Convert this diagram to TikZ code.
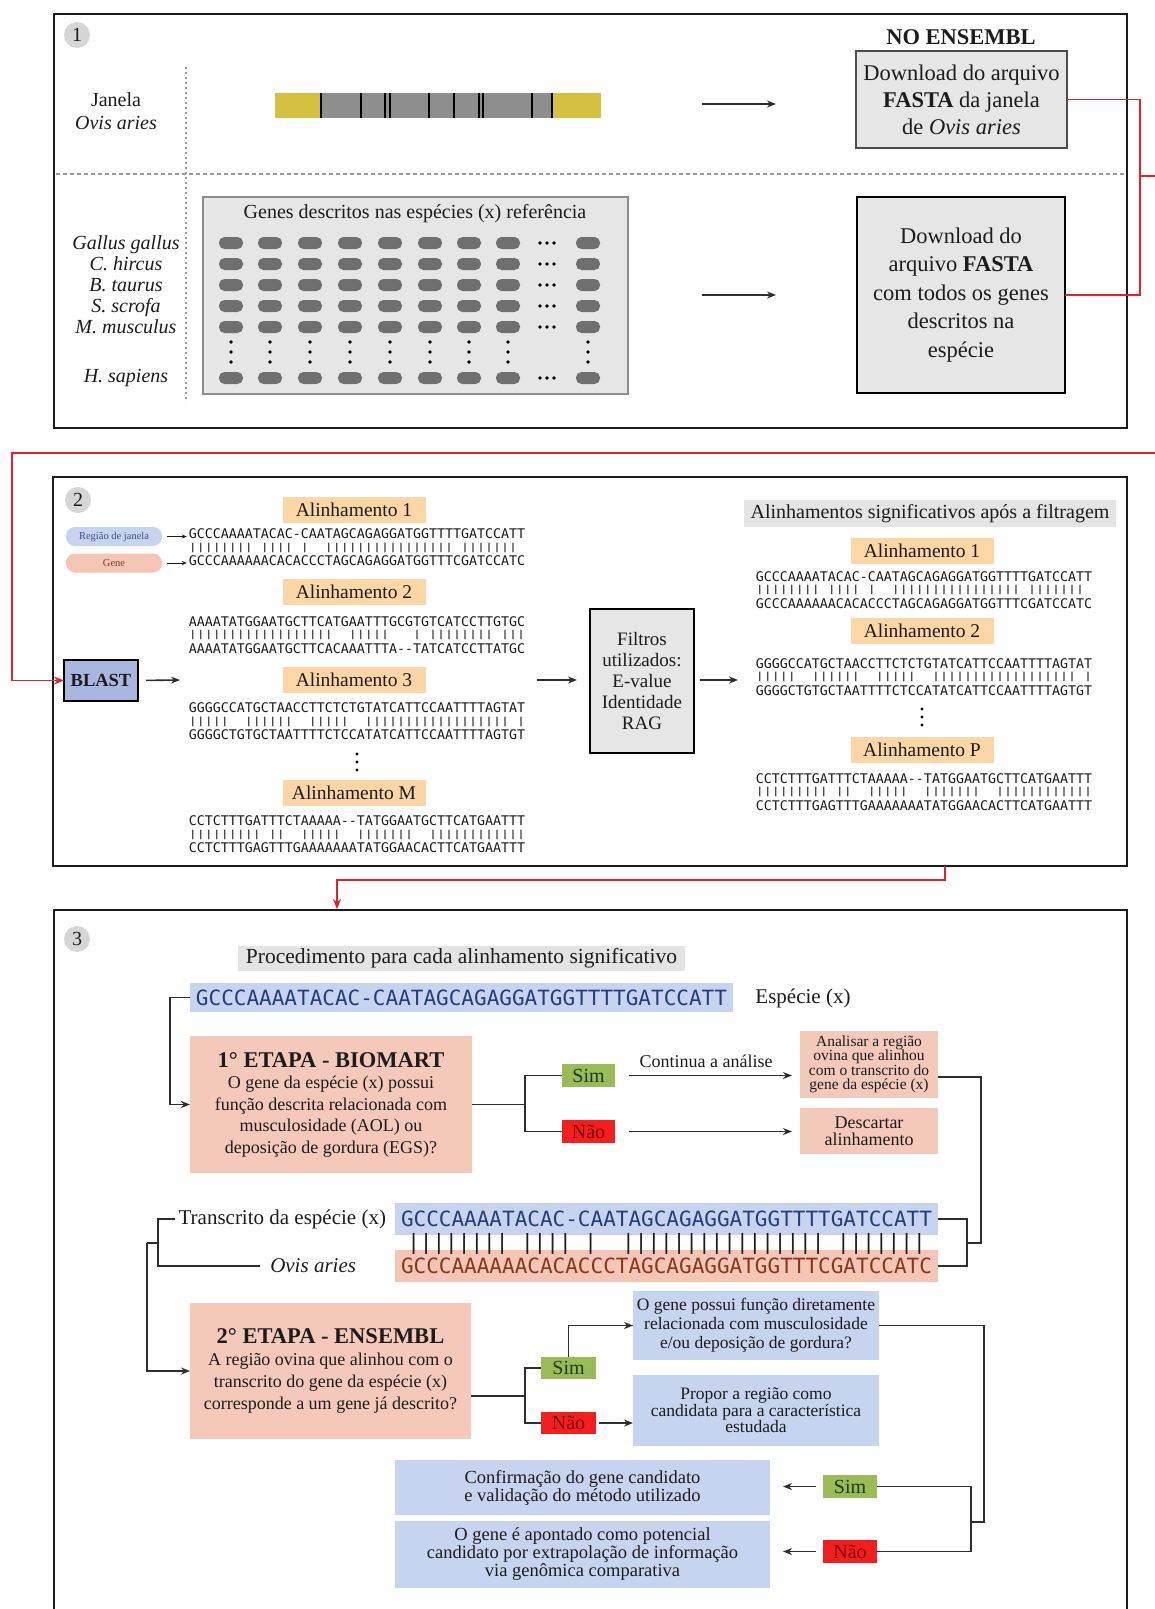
\documentclass[tikz,border=0pt]{standalone}
\usepackage{fontspec}
\setmainfont{Liberation Serif}
\newfontfamily\seqf{DejaVu Sans Mono}
\usetikzlibrary{arrows.meta}
\newcommand{\fsz}[2]{\fontsize{#1}{#2}\selectfont}
\newcommand{\seqgap}{\mbox{-}}
% aligned sequences (top / match bars / bottom)
\newcommand{\sqA}{GCCCAAAATACAC-CAATAGCAGAGGATGGTTTTGATCCATT}
\newcommand{\brA}{||||||||~||||~|~~||||||||||||||||~|||||||~}
\newcommand{\sqAb}{GCCCAAAAAACACACCCTAGCAGAGGATGGTTTCGATCCATC}
\newcommand{\sqB}{AAAATATGGAATGCTTCATGAATTTGCGTGTCATCCTTGTGC}
\newcommand{\brB}{||||||||||||||||||~~|||||~~~|~||||||||~|||}
\newcommand{\sqBb}{AAAATATGGAATGCTTCACAAATTTA\seqgap\seqgap TATCATCCTTATGC}
\newcommand{\sqC}{GGGGCCATGCTAACCTTCTCTGTATCATTCCAATTTTAGTAT}
\newcommand{\brC}{|||||~~||||||~~|||||~~||||||||||||||||||~|}
\newcommand{\sqCb}{GGGGCTGTGCTAATTTTCTCCATATCATTCCAATTTTAGTGT}
\newcommand{\sqD}{CCTCTTTGATTTCTAAAAA\seqgap\seqgap TATGGAATGCTTCATGAATTT}
\newcommand{\brD}{|||||||||~||~~|||||~~|||||||~~||||||||||||}
\newcommand{\sqDb}{CCTCTTTGAGTTTGAAAAAAATATGGAACACTTCATGAATTT}
% three-line alignment block: name, x, y of the bar line, top, bars, bottom
\newcommand{\alnblk}[6]{%
  \node[sq] (#1t) at (#2,#3-13.5) {#4};
  \node[sq] (#1m) at (#2,#3-2.3) {\scalebox{1}[0.72]{#5}};
  \node[sq] (#1b) at (#2,#3+13.5) {#6};}

\definecolor{ink}{HTML}{1C1C1C}
\definecolor{lgrey}{HTML}{E6E6E6}
\definecolor{hdrgrey}{HTML}{E4E4E4}
\definecolor{peach}{HTML}{FCD6A4}
\definecolor{salmon}{HTML}{F4C9BA}
\definecolor{lblue}{HTML}{C7D4F0}
\definecolor{blastc}{HTML}{A9B7E0}
\definecolor{simg}{HTML}{9BBB59}
\definecolor{simtxt}{HTML}{1F3A0E}
\definecolor{naor}{HTML}{F41E1E}
\definecolor{naotxt}{HTML}{7A0A0A}
\definecolor{winy}{HTML}{D6C040}
\definecolor{wing}{HTML}{8E8E8E}
\definecolor{pillg}{HTML}{6F6F6F}
\definecolor{redc}{HTML}{E2222B}
\definecolor{seqblue}{HTML}{243E78}
\definecolor{seqbrown}{HTML}{86381F}
\definecolor{dotg}{HTML}{9A9A9A}
\definecolor{pinkseq}{HTML}{F5C6B5}
\definecolor{pilltxtb}{HTML}{3C4E90}

\begin{document}
\begin{tikzpicture}[x=1pt,y=-1pt,
  every node/.style={inner sep=0pt,outer sep=0pt,text=ink},
  panel/.style={draw=ink,line width=2.4pt},
  num/.style={circle,fill=black!16,minimum size=26pt,font=\fsz{20}{22}},
  graybox/.style={fill=lgrey,draw=black!70,line width=1.4pt,align=center},
  lab/.style={fill=peach,minimum width=143pt,minimum height=26pt,font=\fsz{19.5}{21}},
  sq/.style={font=\seqf\fsz{13.3}{14},text height=9.6pt,text depth=0pt},
  bigsq/.style={font=\seqf\fsz{21}{24},text height=15.2pt,text depth=0pt,minimum width=543pt},
  hdr/.style={fill=hdrgrey},
  sbox/.style={fill=salmon,align=center},
  bbox/.style={fill=lblue,align=center},
  simbox/.style={fill=simg,minimum width=53pt,minimum height=23pt,font=\fsz{20}{21},text=simtxt},
  naobox/.style={fill=naor,minimum width=53pt,minimum height=23pt,font=\fsz{20}{21},text=naotxt},
  conn/.style={draw=black!82,line width=1.6pt},
  arr/.style={conn,-{Stealth[length=9pt,width=7pt]}},
  redln/.style={draw=redc,line width=1.8pt},
  pillbox/.style={rounded corners=9pt,minimum width=96pt,minimum height=19pt,font=\fsz{10.5}{11}},
]
\useasboundingbox (0,0) rectangle (1155,1609);
\clip (0,0) rectangle (1155,1609);
\fill[white] (0,0) rectangle (1155,1609);

% ---------------- Panel 1 ----------------
\node[panel,minimum width=1073pt,minimum height=414pt] (p1) at (590.5,221) {};
\node[num] (n1) at (77,35) {1};
\draw[dotg,line width=2.2pt,dash pattern=on 2pt off 3pt] (186,67) -- (186,402);
\draw[dotg,line width=1.6pt,dash pattern=on 4pt off 3pt] (56,174) -- (1125,174);

\node[font=\fsz{20}{23},align=center] (jan) at (116,111) {Janela\\\textit{Ovis aries}};

% genomic window
\fill[winy] (275,93) rectangle (321,118);
\fill[wing] (321,93) rectangle (553,118);
\fill[winy] (553,93) rectangle (601,118);
\foreach \lx in {321,361,385,390,429,454,479,483,532,552}
  \draw[black,line width=2pt] (\lx,93) -- (\lx,118);

% species and their genes
\node[font=\itshape\fsz{20}{21},align=center] (spp) at (126,285) {Gallus gallus\\C. hircus\\B. taurus\\S. scrofa\\M. musculus};
\node[font=\itshape\fsz{20}{21}] (hsap) at (126,378) {H. sapiens};
\node[fill=lgrey,draw=black!45,line width=1.2pt,minimum width=425pt,minimum height=197pt] (genes) at (415.5,295.5) {};
\node[font=\fsz{20}{22}] (gtit) at (415,214) {Genes descritos nas espécies (x) referência};
\foreach \cx in {231,270,310,350,390,430,469,508,588} {
  \foreach \cy in {243,264,285,306,327,378}
    \fill[pillg,rounded corners=5.5pt] (\cx-12,\cy-6) rectangle (\cx+12,\cy+6);
  \foreach \cy in {342,352,362}
    \fill[black] (\cx,\cy) circle (1.8pt);
}
\foreach \cy in {243,264,285,306,327,378}
  \foreach \dx in {-7,0,7}
    \fill[black] (547+\dx,\cy) circle (1.8pt);

% downloads
\coordinate (d1a) at (702,104);
\coordinate (d1b) at (776,104);
\coordinate (d2a) at (702,295);
\coordinate (d2b) at (776,295);
\draw[arr] (d1a) -- (d1b);
\draw[arr] (d2a) -- (d2b);
\node[font=\bfseries\fsz{22.5}{24}] (ne) at (961,37) {NO ENSEMBL};
\node[graybox,minimum width=211pt,minimum height=97pt,font=\fsz{22.5}{27}] (fa) at (961.5,99.5)
  {Download do arquivo\\\textbf{FASTA} da janela\\de \textit{Ovis aries}};
\node[graybox,draw=black,line width=2.2pt,minimum width=208pt,minimum height=196pt,font=\fsz{22.5}{28.5}] (fb) at (961,295)
  {Download do\\arquivo \textbf{FASTA}\\com todos os genes\\descritos na\\espécie};

% ---------------- Panel 2 ----------------
\node[panel,minimum width=1074pt,minimum height=389pt] (p2) at (590,671.5) {};
\node[num] (n2) at (78,500) {2};

\node[pillbox,fill=lblue,text=pilltxtb] (rj) at (114,536.5) {Região de janela};
\node[pillbox,fill=pinkseq,text=seqbrown] (gn) at (114,563) {Gene};

\node[lab] (l1) at (354,510) {Alinhamento 1};
\alnblk{a1}{357}{547.5}{\sqA}{\brA}{\sqAb}
\node[lab] (l2) at (354,592) {Alinhamento 2};
\alnblk{a2}{357}{635}{\sqB}{\brB}{\sqBb}
\node[lab] (l3) at (354,680) {Alinhamento 3};
\alnblk{a3}{357}{721.5}{\sqC}{\brC}{\sqCb}
\foreach \dy in {754,762,770} \fill[black] (357,\dy) circle (1.7pt);
\node[lab] (lm) at (354,793) {Alinhamento M};
\alnblk{am}{357}{834.5}{\sqD}{\brD}{\sqDb}

\draw[-{Stealth[length=5pt,width=4pt]},line width=1pt,draw=ink,shorten <=5pt,shorten >=2pt] (rj.east) -- (rj.east -| a1t.west);
\draw[-{Stealth[length=5pt,width=4pt]},line width=1pt,draw=ink,shorten <=5pt,shorten >=2pt] (gn.east) -- (gn.east -| a1b.west);

\node[draw=black,line width=2pt,fill=blastc,minimum width=74pt,minimum height=41pt,font=\bfseries\fsz{18.5}{20}] (blast) at (101,680.5) {BLAST};
\coordinate (bl2) at (180,680);
\draw[arr,shorten <=8pt] (blast.east) -- (bl2);

\node[graybox,draw=black,line width=2.2pt,minimum width=104pt,minimum height=144pt,font=\fsz{19}{21}] (filt) at (642,681)
  {Filtros\\utilizados:\\E-value\\Identidade\\RAG};
\coordinate (fi1) at (537,680);
\coordinate (fo2) at (738,680);
\draw[arr,shorten >=13pt] (fi1) -- (filt.west |- fi1);
\draw[arr,shorten <=6pt] (filt.east |- fo2) -- (fo2);

\node[hdr,minimum width=372pt,minimum height=27pt,font=\fsz{20}{22}] (sig) at (930,513.5) {Alinhamentos significativos após a filtragem};
\node[lab] (r1) at (922,551) {Alinhamento 1};
\alnblk{b1}{924}{590}{\sqA}{\brA}{\sqAb}
\node[lab] (r2) at (922,631) {Alinhamento 2};
\alnblk{b2}{924}{677}{\sqC}{\brC}{\sqCb}
\foreach \dy in {709,717,725} \fill[black] (922,\dy) circle (1.7pt);
\node[lab] (rp) at (922,750) {Alinhamento P};
\alnblk{bp}{924}{792}{\sqD}{\brD}{\sqDb}

% ---------------- Panel 3 ----------------
\node[panel,minimum width=1073pt,minimum height=740pt] (p3) at (590.5,1280) {};
\node[num] (n3) at (77,939) {3};
\node[hdr,minimum width=447pt,minimum height=25pt,font=\fsz{21.5}{23}] (proc) at (461.5,958.5) {Procedimento para cada alinhamento significativo};
\node[bigsq,fill=lblue,text=seqblue,minimum height=29pt] (s0) at (461.5,997.5) {\sqA};
\node[font=\fsz{21}{23}] (esp) at (803,998) {Espécie (x)};

\node[sbox,minimum width=282pt,minimum height=137pt,font=\fsz{18}{21.5}] (bio) at (331,1104.5)
  {{\bfseries\fsz{22.5}{24}1° ETAPA - BIOMART}\\O gene da espécie (x) possui\\função descrita relacionada com\\musculosidade (AOL) ou\\deposição de gordura (EGS)?};
\coordinate (lb1) at (170,1104.5);
\draw[arr] (s0.west) -| (lb1) -- (bio.west);

\node[simbox] (sim1) at (588.5,1075.5) {Sim};
\node[naobox] (nao1) at (588.5,1131.5) {Não};
\coordinate (bj1) at (525,1104.5);
\draw[conn] (bio.east) -- (bj1);
\draw[conn] (sim1.west) -| (bj1) |- (nao1.west);

\node[sbox,minimum width=138pt,minimum height=67pt,font=\fsz{15.5}{14.5}] (ana) at (869,1064.5)
  {Analisar a região\\ovina que alinhou\\com o transcrito do\\gene da espécie (x)};
\node[sbox,minimum width=138pt,minimum height=46pt,font=\fsz{18}{17}] (desc) at (869,1131) {Descartar\\alinhamento};
\draw[arr,shorten <=14pt,shorten >=8pt] (sim1.east) -- (sim1.east -| ana.west);
\draw[arr,shorten <=14pt,shorten >=8pt] (nao1.east) -- (nao1.east -| desc.west);
\node[font=\fsz{18}{20}] (cont) at (706,1061) {Continua a análise};

% aligned transcript
\node[bigsq,fill=lblue,text=seqblue,minimum height=32pt] (s1) at (666.5,1219) {\sqA};
\node[bigsq,fill=pinkseq,text=seqbrown,minimum height=32pt] (s2) at (666.5,1266) {\sqAb};
\node[bigsq,text=ink] (sb) at (666.5,1242) {\brA};
\node[font=\fsz{21}{23},anchor=east] (trx) at (386,1219) {Transcrito da espécie (x)};
\node[font=\itshape\fsz{21}{23},anchor=east] (ovx) at (356,1266) {Ovis aries};

\coordinate (rb1) at (981,1243);
\coordinate (rbm) at (967,1243);
\draw[conn] ([yshift=-12.5pt]ana.east) -| (rb1) -- (rbm);
\draw[conn] (s1.east) -| (rbm) |- (s2.east);

\coordinate (lb2) at (158,1243);
\coordinate (lb3) at (147,1243);
\draw[conn] ([xshift=-4pt]trx.west) -| (lb2) |- ([xshift=-10pt]ovx.west);
\draw[conn] (lb2) -- (lb3);
\node[sbox,minimum width=281pt,minimum height=136pt,font=\fsz{18}{22}] (ens) at (330.5,1371)
  {{\bfseries\fsz{22.5}{24}2° ETAPA - ENSEMBL}\\A região ovina que alinhou com o\\transcrito do gene da espécie (x)\\corresponde a um gene já descrito?};
\draw[arr] (lb3) |- (ens.west);

\node[simbox,minimum width=55pt,minimum height=22pt] (sim2) at (568.5,1368) {Sim};
\node[naobox,minimum width=55pt,minimum height=22pt] (nao2) at (568.5,1423) {Não};
\coordinate (bj2) at (525,1396);
\draw[conn] ([yshift=-25pt]ens.east) -- (bj2);
\draw[conn] (sim2.west) -| (bj2) |- (nao2.west);

\node[bbox,minimum width=246pt,minimum height=69pt,font=\fsz{17.5}{19}] (q1) at (756,1325.5)
  {O gene possui função diretamente\\relacionada com musculosidade\\e/ou deposição de gordura?};
\node[bbox,minimum width=246pt,minimum height=71pt,font=\fsz{17.5}{16.5}] (q2) at (756,1410.5)
  {Propor a região como\\candidata para a característica\\estudada};
\draw[arr] (sim2.north) |- (q1.west);
\draw[arr,shorten <=3pt] (nao2.east) -- (q2.west |- nao2.east);

\node[bbox,minimum width=375pt,minimum height=55pt,font=\fsz{18.5}{18}] (cf) at (582.5,1487.5)
  {Confirmação do gene candidato\\e validação do método utilizado};
\node[bbox,minimum width=375pt,minimum height=67pt,font=\fsz{18.5}{18}] (ap) at (582.5,1554.5)
  {O gene é apontado como potencial\\candidato por extrapolação de informação\\via genômica comparativa};
\node[simbox,minimum width=54pt] (sim3) at (850,1486.5) {Sim};
\node[naobox,minimum width=54pt] (nao3) at (850,1551.5) {Não};

\coordinate (rb2) at (984,1522);
\coordinate (rb3) at (971,1522);
\draw[conn] (q1.east) -| (rb2) -- (rb3);
\draw[conn] (sim3.east) -| (rb3) |- (nao3.east);
\draw[arr,shorten <=7pt,shorten >=13pt] (sim3.west) -- (sim3.west -| cf.east);
\draw[arr,shorten <=7pt,shorten >=13pt] (nao3.west) -- (nao3.west -| ap.east);

% ---------------- red links between panels ----------------
\coordinate (rj1) at (1140,176);
\draw[redln] (fa.east) -| (rj1) |- (fb.east);
\draw[redln,-{Stealth[length=10pt,width=8pt]}] (rj1) -- (1175,176) -- (1175,453) -- (12,453) |- (blast.west);
\coordinate (r2a) at (945,866);
\coordinate (r2b) at (337,909);
\draw[redln,-{Stealth[length=10pt,width=8pt]}] (r2a) -- (945,880) -| (r2b);
\end{tikzpicture}
\end{document}
